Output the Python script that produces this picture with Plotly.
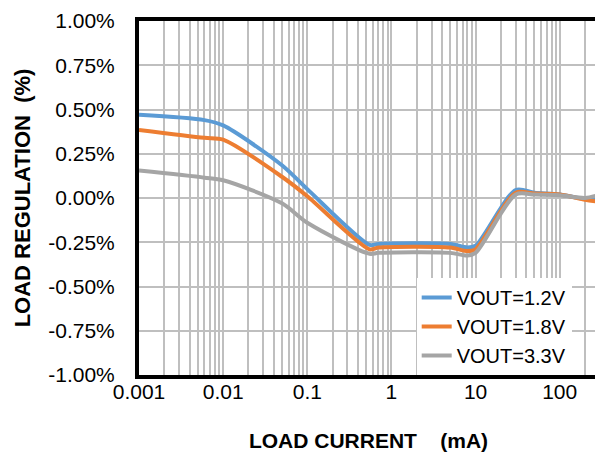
import plotly.graph_objects as go

current_ma = [0.001, 0.006, 0.01, 0.05, 0.1, 0.55, 0.7, 5, 8, 10, 30, 50, 100, 200, 280]
vout_1v2 = [0.47, 0.44, 0.41, 0.185, 0.05, -0.265, -0.26, -0.26, -0.28, -0.27, 0.045, 0.03, 0.02, -0.005, 0.0]
vout_1v8 = [0.385, 0.34, 0.33, 0.12, 0.01, -0.29, -0.28, -0.28, -0.30, -0.29, 0.03, 0.025, 0.02, -0.01, -0.02]
vout_3v3 = [0.155, 0.115, 0.10, -0.03, -0.14, -0.315, -0.31, -0.31, -0.325, -0.31, 0.02, 0.02, 0.015, 0.0, 0.015]
series_names = ["VOUT=1.2V", "VOUT=1.8V", "VOUT=3.3V"]
series_colors = ["#5B9BD5", "#ED7D31", "#A5A5A5"]
x_tick_vals = [0.001, 0.01, 0.1, 1, 10, 100]
x_tick_text = ["0.001", "0.01", "0.1", "1", "10", "100"]
y_tick_vals = [-1.0, -0.75, -0.5, -0.25, 0.0, 0.25, 0.5, 0.75, 1.0]
y_tick_text = ["-1.00%", "-0.75%", "-0.50%", "-0.25%", "0.00%", "0.25%", "0.50%", "0.75%", "1.00%"]

fig = go.Figure()
for name, ys, col in zip(series_names, [vout_1v2, vout_1v8, vout_3v3], series_colors):
    fig.add_trace(go.Scatter(x=current_ma, y=ys, name=name, mode="lines",
                             line=dict(color=col, width=4, shape="spline", smoothing=0.8)))

fig.update_layout(
    width=595, height=449,
    margin=dict(l=131, r=1, t=9, b=82),
    paper_bgcolor="white", plot_bgcolor="white",
    font=dict(family="Liberation Sans, Arial, sans-serif", color="black", size=21),
    showlegend=True,
    legend=dict(x=0.605, y=0.0, xanchor="left", yanchor="bottom", bgcolor="white",
                font=dict(size=20), tracegroupgap=0, borderwidth=0),
    xaxis=dict(type="log", range=[-3, 2.455], tickvals=x_tick_vals, ticktext=x_tick_text,
               showgrid=True, gridcolor="#BFBFBF", gridwidth=1.5,
               minor=dict(showgrid=True, gridcolor="#BFBFBF", gridwidth=1.5, dtick="D1"),
               showline=True, linecolor="black", linewidth=4, mirror=True,
               ticks="", zeroline=False, ticklabelstandoff=-5, ticklabeloverflow="allow",
               title=dict(text="<b>LOAD CURRENT    (mA)</b>", font=dict(size=21), standoff=32)),
    yaxis=dict(range=[-1.0, 1.0], tickvals=y_tick_vals, ticktext=y_tick_text,
               showgrid=True, gridcolor="#BFBFBF", gridwidth=1.5,
               showline=True, linecolor="black", linewidth=4, mirror=True,
               ticks="", zeroline=False, ticklabelstandoff=16, ticklabeloverflow="allow",
               title=dict(text="<b>LOAD REGULATION  (%)</b>", font=dict(size=22), standoff=13)),
)

fig.write_html("out.html")
